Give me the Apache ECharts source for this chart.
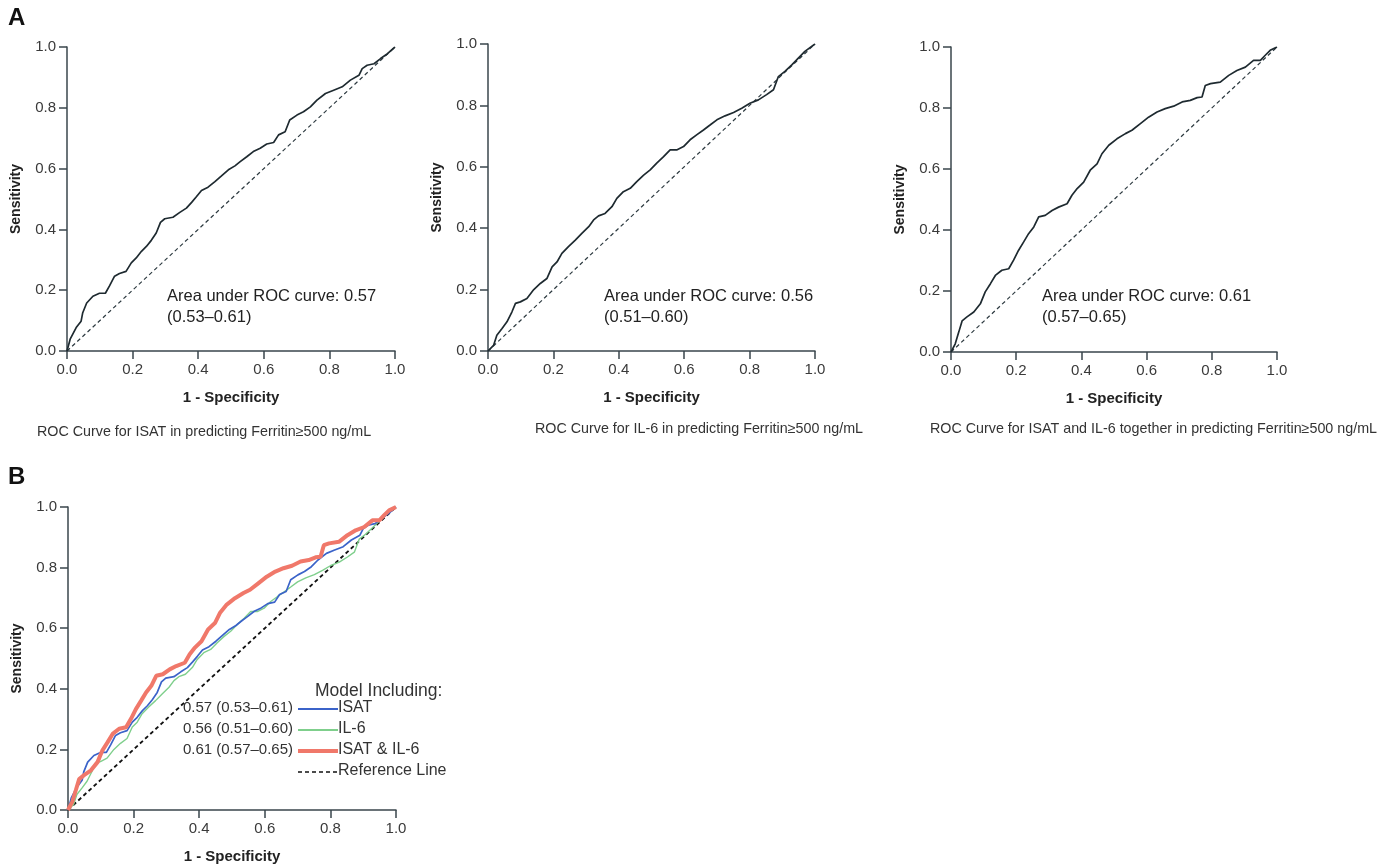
<!DOCTYPE html>
<html>
<head>
    <meta charset="UTF-8">
    <title>ROC curves</title>
    <style>
        html, body { margin: 0; padding: 0; background: #fff; }
        #main { width: 1399px; height: 866px; }
    </style>
</head>
<body>
    <div id="main"></div>
    <script src="https://cdn.jsdelivr.net/npm/echarts@6/dist/echarts.min.js"></script>
    <script type="text/javascript">
        // values (1 - specificity, sensitivity)
        let isatX = [0, 0.01, 0.028, 0.043, 0.048, 0.06, 0.079, 0.099, 0.117, 0.13, 0.145, 0.16, 0.18, 0.196, 0.211, 0.227, 0.242, 0.257, 0.272, 0.285, 0.298, 0.323, 0.344, 0.364, 0.38, 0.395, 0.41, 0.43, 0.451, 0.471, 0.492, 0.512, 0.528, 0.548, 0.568, 0.589, 0.609, 0.63, 0.645, 0.665, 0.679, 0.701, 0.721, 0.742, 0.762, 0.788, 0.813, 0.839, 0.864, 0.89, 0.9, 0.915, 0.936, 0.956, 0.977, 1];
        let isatY = [0, 0.04, 0.077, 0.098, 0.126, 0.158, 0.18, 0.19, 0.19, 0.215, 0.246, 0.255, 0.262, 0.29, 0.306, 0.328, 0.344, 0.364, 0.388, 0.423, 0.435, 0.44, 0.456, 0.47, 0.489, 0.508, 0.528, 0.539, 0.557, 0.576, 0.596, 0.609, 0.623, 0.639, 0.656, 0.667, 0.681, 0.686, 0.711, 0.721, 0.76, 0.776, 0.787, 0.803, 0.825, 0.847, 0.858, 0.869, 0.891, 0.907, 0.929, 0.94, 0.945, 0.962, 0.978, 1];

        let il6X = [0, 0.017, 0.027, 0.043, 0.058, 0.073, 0.084, 0.099, 0.119, 0.14, 0.16, 0.18, 0.196, 0.211, 0.226, 0.246, 0.267, 0.287, 0.308, 0.323, 0.338, 0.358, 0.379, 0.394, 0.414, 0.435, 0.455, 0.476, 0.496, 0.516, 0.537, 0.557, 0.577, 0.598, 0.618, 0.638, 0.659, 0.679, 0.7, 0.725, 0.751, 0.776, 0.801, 0.827, 0.852, 0.873, 0.888, 0.908, 0.929, 0.949, 0.969, 1];
        let il6Y = [0, 0.018, 0.051, 0.073, 0.095, 0.127, 0.155, 0.16, 0.171, 0.2, 0.22, 0.236, 0.274, 0.29, 0.318, 0.34, 0.361, 0.383, 0.405, 0.427, 0.44, 0.448, 0.47, 0.497, 0.519, 0.53, 0.552, 0.573, 0.59, 0.612, 0.633, 0.655, 0.655, 0.666, 0.688, 0.704, 0.72, 0.736, 0.753, 0.766, 0.777, 0.791, 0.807, 0.818, 0.835, 0.851, 0.894, 0.911, 0.932, 0.954, 0.976, 1];

        let combX = [0, 0.013, 0.024, 0.034, 0.049, 0.07, 0.09, 0.105, 0.121, 0.136, 0.156, 0.177, 0.192, 0.207, 0.223, 0.238, 0.254, 0.269, 0.289, 0.31, 0.33, 0.356, 0.371, 0.387, 0.407, 0.427, 0.448, 0.463, 0.484, 0.509, 0.535, 0.555, 0.581, 0.606, 0.632, 0.657, 0.683, 0.709, 0.734, 0.755, 0.77, 0.78, 0.796, 0.826, 0.852, 0.877, 0.903, 0.928, 0.949, 0.964, 0.979, 1];
        let combY = [0, 0.027, 0.066, 0.102, 0.115, 0.131, 0.158, 0.197, 0.224, 0.251, 0.268, 0.273, 0.301, 0.333, 0.361, 0.388, 0.41, 0.443, 0.448, 0.464, 0.475, 0.486, 0.514, 0.536, 0.557, 0.596, 0.617, 0.65, 0.678, 0.699, 0.716, 0.727, 0.749, 0.77, 0.787, 0.798, 0.806, 0.82, 0.825, 0.834, 0.836, 0.874, 0.88, 0.885, 0.907, 0.923, 0.934, 0.956, 0.956, 0.973, 0.989, 1];

        let refX = [0, 1];
        let refY = [0, 1];

        let tickLabels = ['0.0', '0.2', '0.4', '0.6', '0.8', '1.0'];
        let aucText = ['Area under ROC curve: 0.57\n(0.53–0.61)', 'Area under ROC curve: 0.56\n(0.51–0.60)', 'Area under ROC curve: 0.61\n(0.57–0.65)'];
        let panelTitles = ['ROC Curve for ISAT in predicting Ferritin≥500 ng/mL', 'ROC Curve for IL-6 in predicting Ferritin≥500 ng/mL', 'ROC Curve for ISAT and IL-6 together in predicting Ferritin≥500 ng/mL'];
        let legendNames = ['ISAT', 'IL-6', 'ISAT & IL-6', 'Reference Line'];
        let legendAuc = ['0.57 (0.53–0.61)', '0.56 (0.51–0.60)', '0.61 (0.57–0.65)', ''];

        function zip(xs, ys) {
            let out = [];
            for (let i = 0; i < xs.length; i++) {
                out.push([xs[i], ys[i]]);
            }
            return out;
        }

        const font = 'Liberation Sans, Arial, sans-serif';
        const axisColor = '#3a464c';
        const blue = '#3b63c9';
        const green = '#7fcf8c';
        const red = '#f0786a';

        let grids = [
            { left: 67, top: 47, width: 328, height: 304 },
            { left: 488, top: 44, width: 327, height: 307 },
            { left: 951, top: 47, width: 326, height: 305 },
            { left: 68, top: 507, width: 328, height: 303 }
        ];

        let xAxes = [];
        let yAxes = [];
        for (let i = 0; i < grids.length; i++) {
            xAxes.push({
                type: 'value', gridIndex: i, min: 0, max: 1, interval: 0.2,
                name: '1 - Specificity', nameLocation: 'middle', nameGap: 39,
                nameTextStyle: { fontFamily: font, fontWeight: 'bold', fontSize: 15, color: '#222' },
                axisLine: { show: true, lineStyle: { color: axisColor, width: 1.5 } },
                axisTick: { show: true, length: 8, lineStyle: { color: axisColor, width: 1.5 } },
                axisLabel: { fontFamily: font, fontSize: 15, color: '#3a3a3a', margin: 11,
                    formatter: function (v) { return tickLabels[Math.round(v * 5)]; } },
                splitLine: { show: false }
            });
            yAxes.push({
                type: 'value', gridIndex: i, min: 0, max: 1, interval: 0.2,
                name: 'Sensitivity', nameLocation: 'middle', nameGap: 44,
                nameTextStyle: { fontFamily: font, fontWeight: 'bold', fontSize: 14, color: '#222' },
                axisLine: { show: true, lineStyle: { color: axisColor, width: 1.5 } },
                axisTick: { show: true, length: 8, lineStyle: { color: axisColor, width: 1.5 } },
                axisLabel: { fontFamily: font, fontSize: 15, color: '#3a3a3a', margin: 11,
                    formatter: function (v) { return tickLabels[Math.round(v * 5)]; } },
                splitLine: { show: false }
            });
        }

        function lineSeries(idx, data, color, width, dashed) {
            return {
                type: 'line', xAxisIndex: idx, yAxisIndex: idx, data: data,
                showSymbol: false, symbol: 'none', animation: false, silent: true,
                lineStyle: { color: color, width: width, type: dashed ? [4, 3] : 'solid' }
            };
        }

        let series = [
            lineSeries(0, zip(refX, refY), '#2d3a40', 1.2, true),
            lineSeries(0, zip(isatX, isatY), '#1e2a30', 1.7, false),
            lineSeries(1, zip(refX, refY), '#2d3a40', 1.2, true),
            lineSeries(1, zip(il6X, il6Y), '#1e2a30', 1.7, false),
            lineSeries(2, zip(refX, refY), '#2d3a40', 1.2, true),
            lineSeries(2, zip(combX, combY), '#1e2a30', 1.7, false),
            lineSeries(3, zip(refX, refY), '#111', 1.8, true),
            lineSeries(3, zip(il6X, il6Y), green, 1.4, false),
            lineSeries(3, zip(isatX, isatY), blue, 1.7, false),
            lineSeries(3, zip(combX, combY), red, 4, false)
        ];

        let graphics = [
            { type: 'text', left: 8, top: 6, style: { text: 'A', font: 'bold 24px ' + font, fill: '#111' } },
            { type: 'text', left: 8, top: 465, style: { text: 'B', font: 'bold 24px ' + font, fill: '#111' } }
        ];
        let aucPos = [[167, 286], [604, 286], [1042, 286]];
        let titlePos = [[37, 425], [535, 422], [930, 422]];
        for (let i = 0; i < 3; i++) {
            graphics.push({ type: 'text', left: aucPos[i][0], top: aucPos[i][1],
                style: { text: aucText[i], font: '16.5px ' + font, fill: '#222', lineHeight: 21 } });
            graphics.push({ type: 'text', left: titlePos[i][0], top: titlePos[i][1],
                style: { text: panelTitles[i], font: '14.3px ' + font, fill: '#333' } });
        }

        // legend of panel B
        graphics.push({ type: 'text', left: 315, top: 682,
            style: { text: 'Model Including:', font: '17.5px ' + font, fill: '#333' } });
        let legColors = [blue, green, red, '#111'];
        let legWidths = [2, 2, 4, 1.6];
        let rowY = [709, 730, 751, 772];
        for (let i = 0; i < 4; i++) {
            if (legendAuc[i]) {
                graphics.push({ type: 'text', right: 1399 - 293, top: rowY[i] - 9,
                    style: { text: legendAuc[i], font: '15px ' + font, fill: '#333' } });
            }
            graphics.push({ type: 'line',
                shape: { x1: 298, y1: rowY[i], x2: 338, y2: rowY[i] },
                style: { stroke: legColors[i], lineWidth: legWidths[i], lineDash: i === 3 ? [4, 3] : null } });
            graphics.push({ type: 'text', left: 338, top: rowY[i] - 9,
                style: { text: legendNames[i], font: '16px ' + font, fill: '#333' } });
        }

        let myChart = echarts.init(document.getElementById('main'));
        myChart.setOption({
            animation: false,
            grid: grids,
            xAxis: xAxes,
            yAxis: yAxes,
            series: series,
            graphic: graphics
        });
    </script>
</body>
</html>
